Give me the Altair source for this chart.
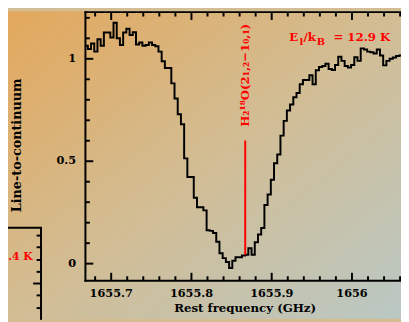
import altair as alt
import numpy as np
import pandas as pd

# ---------------- data ----------------
chan_start = 1655.6649      # GHz, centre of first channel
chan_width = 0.004          # GHz
line_to_cont = [
    1.064, 1.064, 1.048, 1.075, 1.035, 1.096, 1.064, 1.128, 1.128, 1.104,
    1.176, 1.100, 1.067, 1.128, 1.147, 1.116, 1.130, 1.070, 1.080, 1.064,
    1.067, 1.080, 1.067, 1.061, 1.035, 0.988, 0.955, 0.955, 0.880, 0.806,
    0.729, 0.681, 0.514, 0.423, 0.423, 0.322, 0.275, 0.275, 0.260, 0.163,
    0.160, 0.150, 0.107, 0.051, 0.027, 0.008, -0.021, 0.014, 0.031, 0.031,
    0.040, 0.043, 0.075, 0.043, 0.104, 0.142, 0.174, 0.286, 0.338, 0.410,
    0.490, 0.533, 0.625, 0.697, 0.748, 0.777, 0.812, 0.833, 0.876, 0.897,
    0.897, 0.920, 0.876, 0.944, 0.960, 0.965, 0.976, 0.950, 0.945, 0.970,
    1.010, 0.990, 0.965, 0.958, 0.970, 1.008, 0.990, 1.051, 1.045, 1.035,
    1.032, 1.026, 1.045, 1.016, 0.968, 0.990, 1.000, 1.006, 1.014, 1.016,
    1.016,
]
freq = chan_start + chan_width * np.arange(len(line_to_cont))

line_freq = [1655.867]
line_label = ["H\u2082\u00b9\u2078O(2\u2081,\u2082\u22121\u2080,\u2081)"]
energy_label = ["E", "l", "/k", "B", "= 12.9 K"]

x_major = [1655.7, 1655.8, 1655.9, 1656.0]
x_minor = [1655.68, 1655.72, 1655.74, 1655.76, 1655.78, 1655.82, 1655.84,
           1655.86, 1655.88, 1655.92, 1655.94, 1655.96, 1655.98, 1656.02,
           1656.04, 1656.06]
y_major = [0, 0.5, 1]
y_minor = [0.1, 0.2, 0.3, 0.4, 0.6, 0.7, 0.8, 0.9, 1.1, 1.2]
x_title = "Rest frequency (GHz)"
y_title = "Line-to-continuum"

# ticks of the cropped neighbouring panel, expressed on this panel's y scale
left_major = [-0.097]
left_minor = [0.137, 0.080, 0.018, -0.040, -0.155, -0.217]

# ---------------- style ----------------
FONT = "DejaVu Serif"
RED = "#ff0000"
W, H = 322, 274

xs = alt.Scale(domain=[1655.6679, 1656.0611], nice=False, zero=False)
ys = alt.Scale(domain=[-0.083, 1.228], nice=False, zero=False)

one = pd.DataFrame({"d": [0]})
spec_df = pd.DataFrame({"freq": freq, "ratio": line_to_cont})
line_df = pd.DataFrame({"f": line_freq, "label": line_label})
xlab_df = pd.DataFrame({"f": x_major, "t": [f"{v:g}" for v in x_major]})
ylab_df = pd.DataFrame({"v": y_major, "t": [f"{v:g}" for v in y_major]})

gradient = alt.LinearGradient(
    gradient="linear",
    stops=[alt.GradientStop(color="#e3a85c", offset=0),
           alt.GradientStop(color="#d2bd94", offset=0.5),
           alt.GradientStop(color="#bac8c4", offset=1)],
    x1=0, y1=0, x2=1, y2=1)

bg = alt.Chart(one).mark_rect(fill=gradient, strokeWidth=0).encode(
    x=alt.value(-79), x2=alt.value(W), y=alt.value(-1), y2=alt.value(H + 39))

spectrum = alt.Chart(spec_df).mark_line(
    interpolate="step", color="black", strokeWidth=2, clip=True).encode(
    x=alt.X("freq:Q", scale=xs, axis=None),
    y=alt.Y("ratio:Q", scale=ys, axis=None))

frame_top = alt.Chart(one).mark_rule(color="black", strokeWidth=2, strokeCap="square").encode(
    x=alt.value(0), x2=alt.value(W + 2), y=alt.value(0))
frame_bottom = alt.Chart(one).mark_rule(color="black", strokeWidth=2, strokeCap="square").encode(
    x=alt.value(0), x2=alt.value(W + 2), y=alt.value(H))
frame_left = alt.Chart(one).mark_rule(color="black", strokeWidth=2, strokeCap="square").encode(
    x=alt.value(0), y=alt.value(0), y2=alt.value(H))


def xticks(vals, y0, y1, tag):
    df = pd.DataFrame({"f": vals, "tag": [tag] * len(vals)})
    return alt.Chart(df).mark_rule(color="black", strokeWidth=2).encode(
        x=alt.X("f:Q", scale=xs, axis=None), y=alt.value(y0), y2=alt.value(y1))


def yticks(vals, x0, x1, tag):
    df = pd.DataFrame({"v": vals, "tag": [tag] * len(vals)})
    return alt.Chart(df).mark_rule(color="black", strokeWidth=2).encode(
        y=alt.Y("v:Q", scale=ys, axis=None), x=alt.value(x0), x2=alt.value(x1))


xlabels = alt.Chart(xlab_df).mark_text(
    align="center", baseline="middle", font=FONT, fontSize=11.5,
    fontWeight="bold", color="black").encode(
    x=alt.X("f:Q", scale=xs, axis=None), y=alt.value(H + 13.5), text="t:N")
ylabels = alt.Chart(ylab_df).mark_text(
    align="right", baseline="middle", font=FONT, fontSize=11.5,
    fontWeight="bold", color="black").encode(
    y=alt.Y("v:Q", scale=ys, axis=None), x=alt.value(-9.5), text="t:N")

red_line = alt.Chart(line_df).mark_rule(color=RED, strokeWidth=2).encode(
    x=alt.X("f:Q", scale=xs, axis=None), y=alt.value(131), y2=alt.value(247.7))

red_label = alt.Chart(line_df).mark_text(
    angle=270, align="center", baseline="middle", font=FONT, fontSize=12,
    fontWeight="bold", color=RED).encode(
    x=alt.X("f:Q", scale=xs, axis=None), y=alt.value(64.5), text="label:N")


def label(txt, x, y, size, color=RED, align="left", angle=0, baseline="alphabetic"):
    return alt.Chart(one).mark_text(
        text=txt, align=align, baseline=baseline, angle=angle, font=FONT,
        fontSize=size, fontWeight="bold", color=color).encode(
        x=alt.value(x), y=alt.value(y))


energy = [
    label(energy_label[0], 208, 29.3, 12),
    label(energy_label[1], 218.5, 33.5, 10),
    label(energy_label[2], 222.5, 29.3, 12),
    label(energy_label[3], 236, 33.5, 10),
    label(energy_label[4], 253, 29.3, 12),
]

xtitle = label(x_title, 163, H + 28.5, 12, color="black", align="center",
               baseline="middle")
ytitle = label(y_title, -70, 136, 13, color="black",
               align="center", angle=270, baseline="middle")
left_k = label(".4 K", -54, 252.5, 11, align="right")

# cropped neighbouring panel on the left
left_vert = alt.Chart(one).mark_rule(color="black", strokeWidth=2).encode(
    x=alt.value(-45.3), y=alt.value(220), y2=alt.value(H + 40))
left_top = alt.Chart(one).mark_rule(color="black", strokeWidth=2).encode(
    x=alt.value(-90), x2=alt.value(-44.3), y=alt.value(220))

chart = alt.layer(
    bg, spectrum, frame_top, frame_bottom, frame_left,
    xticks(x_major, H, H - 8, "xb_major"), xticks(x_minor, H, H - 4.5, "xb_minor"),
    xticks(x_major, 0, 8, "xt_major"), xticks(x_minor, 0, 4.5, "xt_minor"),
    yticks(y_major, 0, 8, "y_major"), yticks(y_minor, 0, 4.5, "y_minor"),
    xlabels, ylabels, xtitle,
    red_line, red_label, *energy, ytitle, left_k,
    left_vert, left_top,
    yticks(left_major, -53.3, -45.3, "l_major"),
    yticks(left_minor, -49.8, -45.3, "l_minor"),
).properties(
    width=W, height=H,
    autosize=alt.AutoSizeParams(type="none"),
    padding={"left": 79, "top": 1, "right": 0, "bottom": 39},
).configure_view(stroke=None).configure(background="#d2bd94")

chart.save("out.html", embed_options={"renderer": "svg", "actions": False})
